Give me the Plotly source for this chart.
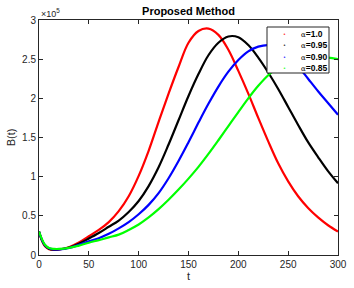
import plotly.graph_objects as go

# time samples
t = [0, 3, 6, 10, 15, 20, 30, 40, 50, 60, 70, 80, 90, 100, 110, 120, 130, 140, 150,
     160, 170, 180, 190, 200, 210, 220, 230, 240, 250, 260, 270, 280, 290, 300]

# B(t) in units of 1e5
b_10 = [0.30, 0.18, 0.11, 0.075, 0.065, 0.07, 0.10, 0.16, 0.24, 0.32, 0.42, 0.56, 0.75,
        1.01, 1.33, 1.70, 2.06, 2.40, 2.71, 2.86, 2.89, 2.81, 2.62, 2.35, 2.06, 1.75,
        1.45, 1.17, 0.94, 0.75, 0.60, 0.48, 0.38, 0.30]
b_095 = [0.30, 0.19, 0.12, 0.08, 0.068, 0.07, 0.095, 0.145, 0.21, 0.28, 0.36, 0.44, 0.55,
         0.69, 0.88, 1.12, 1.41, 1.72, 2.03, 2.31, 2.55, 2.71, 2.79, 2.78, 2.68, 2.52,
         2.33, 2.12, 1.89, 1.66, 1.44, 1.25, 1.07, 0.915]
b_090 = [0.30, 0.19, 0.125, 0.085, 0.072, 0.072, 0.09, 0.13, 0.175, 0.215, 0.27, 0.34,
         0.42, 0.52, 0.64, 0.79, 0.98, 1.20, 1.44, 1.69, 1.93, 2.15, 2.34, 2.49, 2.60,
         2.66, 2.68, 2.65, 2.55, 2.41, 2.25, 2.09, 1.94, 1.79]
b_085 = [0.30, 0.20, 0.13, 0.09, 0.078, 0.077, 0.09, 0.12, 0.157, 0.19, 0.225, 0.26,
         0.32, 0.39, 0.48, 0.585, 0.705, 0.835, 0.975, 1.125, 1.29, 1.465, 1.645, 1.825,
         2.00, 2.16, 2.295, 2.395, 2.465, 2.505, 2.525, 2.53, 2.52, 2.50]

alphas = ["1.0", "0.95", "0.90", "0.85"]
colors = ["#ff0000", "#000000", "#0000ff", "#00ff00"]
values = [b_10, b_095, b_090, b_085]

x_ticks = [0, 50, 100, 150, 200, 250, 300]
y_ticks = [0, 0.5, 1, 1.5, 2, 2.5, 3]
y_tick_text = ["0", "0.5", "1", "1.5", "2", "2.5", "3"]

W, H = 354, 288
ML, MR, MT, MB = 39, 16, 20, 33
PW, PH = W - ML - MR, H - MT - MB

fig = go.Figure()
for vals, col in zip(values, colors):
    fig.add_trace(go.Scatter(x=t, y=vals, mode="lines", line=dict(color=col, width=2.2),
                             line_shape="spline", showlegend=False, hoverinfo="skip"))

axis_common = dict(showline=True, linecolor="#262626", linewidth=1, mirror="allticks",
                   ticks="inside", ticklen=4, tickcolor="#262626", showgrid=False,
                   zeroline=False, automargin=False,
                   tickfont=dict(family="Liberation Sans", size=10, color="#262626"))

fig.update_xaxes(range=[0, 300], tickvals=x_ticks, title=dict(text="t", standoff=2,
                 font=dict(family="Liberation Sans", size=11, color="#262626")), **axis_common)
fig.update_yaxes(range=[0, 3], tickvals=y_ticks, ticktext=y_tick_text,
                 title=dict(text="B(t)", standoff=4,
                            font=dict(family="Liberation Sans", size=11, color="#262626")),
                 **axis_common)

# manual legend box (pixel layout converted to paper coordinates)
def px_x(px):
    return (px - ML) / PW

def px_y(py):
    return (H - MB - py) / PH

shapes = [dict(type="rect", xref="paper", yref="paper",
               x0=px_x(267), x1=px_x(329), y0=px_y(73), y1=px_y(27),
               line=dict(color="#262626", width=1), fillcolor="white", layer="above")]
annotations = [dict(text="×10<sup>5</sup>", x=0, y=1, xref="paper", yref="paper",
                    xanchor="left", yanchor="bottom", showarrow=False, yshift=-1,
                    font=dict(family="Liberation Sans", size=9, color="#262626"))]
row_y = [34, 45.3, 56.7, 67.7]
for a, col, ry in zip(alphas, colors, row_y):
    annotations.append(dict(text="•", x=px_x(284.5), y=px_y(ry), xref="paper", yref="paper",
                            xanchor="center", yanchor="middle", showarrow=False,
                            font=dict(family="DejaVu Sans", size=5, color=col)))
    annotations.append(dict(text="<span style='font-family:DejaVu Serif;font-size:7px'>α</span>"
                                 "<b>=" + a + "</b>",
                            x=px_x(298.5), y=px_y(ry), xref="paper", yref="paper",
                            xanchor="left", yanchor="middle", showarrow=False,
                            font=dict(family="Liberation Sans", size=8.5, color="black")))

fig.update_layout(
    width=W, height=H,
    margin=dict(l=ML, r=MR, t=MT, b=MB),
    paper_bgcolor="white", plot_bgcolor="white",
    showlegend=False,
    title=dict(text="<b>Proposed Method</b>", x=0.5, xref="paper", xanchor="center",
               y=1 - 11 / H, yref="container", yanchor="middle",
               font=dict(family="Liberation Sans", size=11, color="black")),
    shapes=shapes,
    annotations=annotations,
)

fig.write_html("out.html", config={"displayModeBar": False, "staticPlot": True},
               post_script="document.body.style.margin='0';")
